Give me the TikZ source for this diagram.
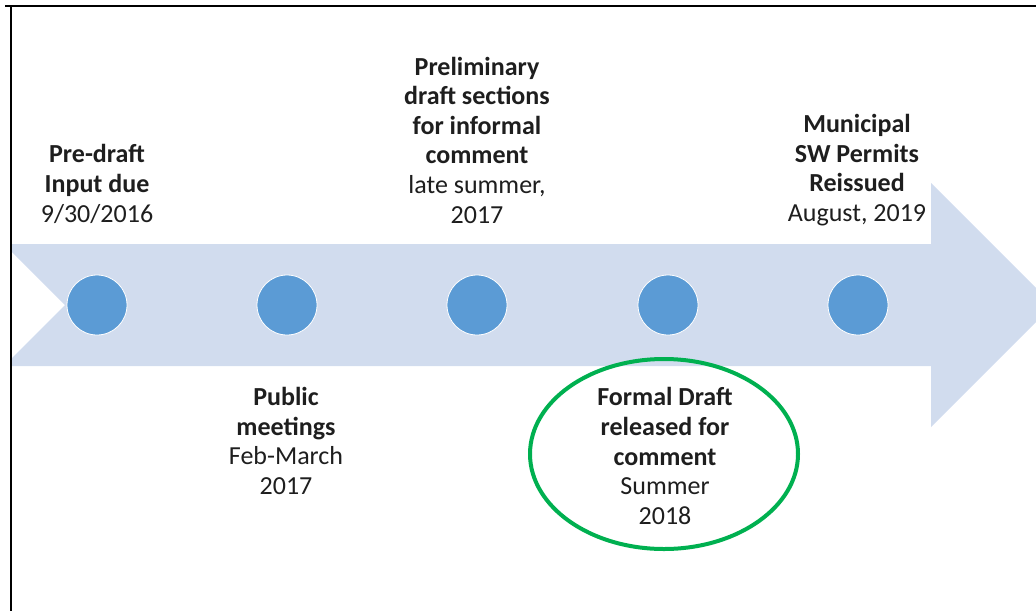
\documentclass[tikz,border=0pt]{standalone}
\usepackage{fontspec}
\setmainfont{Carlito}
\definecolor{arrowfill}{RGB}{209,220,238}
\definecolor{dotfill}{RGB}{91,155,213}
\definecolor{ringgreen}{RGB}{0,176,80}
\definecolor{txt}{RGB}{30,30,30}
\tikzset{
  dot/.style={circle, minimum size=60pt, inner sep=0pt, fill=dotfill, draw=white, line width=0.8pt},
  label/.style={align=center, inner sep=0pt, text=txt, font=\fontsize{26}{29.6}\selectfont},
  ring/.style={draw=ringgreen, line width=4pt}
}
\begin{document}
\begin{tikzpicture}[x=1pt,y=-1pt]
\useasboundingbox (0,0) rectangle (1036,611);
\begin{scope}
\clip (0,0) rectangle (1036,611);
\fill[arrowfill] (12,244) -- (931,244) -- (931,183) -- (1053,305) -- (931,427) -- (931,366) -- (12,366) -- (12,358) -- (65,305) -- (12,252) -- cycle;
\end{scope}
\draw[line width=2pt] (5,6) -- (1036,6);
\draw[line width=2pt] (11,6) -- (11,611);
\node[dot] (d1) at (97,305) {};
\node[dot] (d2) at (287,305) {};
\node[dot] (d3) at (477,305) {};
\node[dot] (d4) at (668,305) {};
\node[dot] (d5) at (858,305) {};
\node[label] (t1) at (97,184) {\textbf{Pre-draft}\\\textbf{Input due}\\9/30/2016};
\node[label] (t2) at (286,441) {\textbf{Public}\\\textbf{meetings}\\Feb-March\\2017};
\node[label] (t3) at (477,140) {\textbf{Preliminary}\\\textbf{draft sections}\\\textbf{for informal}\\\textbf{comment}\\late summer,\\2017};
\node[label] (t4) at (665,456) {\textbf{Formal Draft}\\\textbf{released for}\\\textbf{comment}\\Summer\\2018};
\node[label] (t5) at (857,170) {\textbf{Municipal}\\\textbf{SW Permits}\\\textbf{Reissued}\\August, 2019};
\coordinate (rc) at (664,454);
\draw[ring] (rc) ellipse [x radius=134, y radius=95];
\end{tikzpicture}
\end{document}
